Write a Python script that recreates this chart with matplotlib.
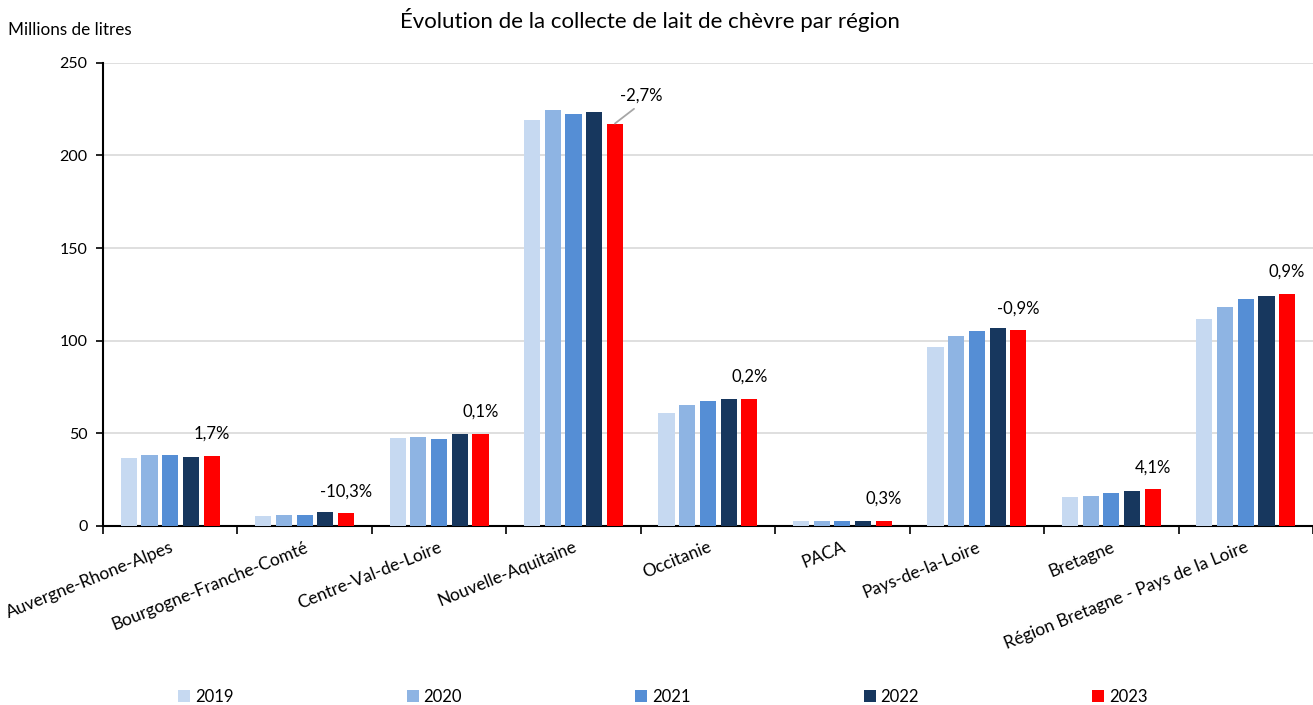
import numpy as np
import matplotlib
matplotlib.use("Agg")
import matplotlib.pyplot as plt

plt.rcParams["font.family"] = ["Lato", "DejaVu Sans"]

# Data
regions = [
    "Auvergne-Rhone-Alpes",
    "Bourgogne-Franche-Comté",
    "Centre-Val-de-Loire",
    "Nouvelle-Aquitaine",
    "Occitanie",
    "PACA",
    "Pays-de-la-Loire",
    "Bretagne",
    "Région Bretagne - Pays de la Loire",
]
years = ["2019", "2020", "2021", "2022", "2023"]
v2019 = [36.4, 5.4, 47.2, 219.2, 61.0, 2.6, 96.7, 15.7, 111.8]
v2020 = [38.2, 6.1, 47.9, 224.6, 65.3, 2.6, 102.6, 16.2, 118.3]
v2021 = [38.3, 6.1, 47.0, 222.1, 67.5, 2.6, 105.3, 17.8, 122.6]
v2022 = [37.4, 7.7, 49.6, 223.2, 68.5, 2.7, 106.6, 18.9, 124.2]
v2023 = [38.0, 6.9, 49.7, 217.2, 68.6, 2.7, 105.6, 19.7, 125.3]
evolution = ["1,7%", "-10,3%", "0,1%", "-2,7%", "0,2%", "0,3%", "-0,9%", "4,1%", "0,9%"]

colors = ["#C6D9F1", "#8EB4E3", "#558ED5", "#17375E", "#FF0000"]
series = [v2019, v2020, v2021, v2022, v2023]

fig = plt.figure(figsize=(13.13, 7.05), dpi=100)
ax = fig.add_axes([0.0784, 0.254, 0.9216, 0.657])

x = np.arange(len(regions))
width = 0.12
step = 0.154
for i, (vals, col, yr) in enumerate(zip(series, colors, years)):
    ax.bar(x + (i - 2) * step, vals, width, color=col, label=yr, zorder=3)

# evolution labels above the 2023 bars
for xi, val, txt in zip(x, v2023, evolution):
    xb = xi + 2 * step
    if txt == "-2,7%":
        ax.annotate(txt, xy=(xb, val), xytext=(26, 28), textcoords="offset pixels",
                    ha="center", va="center", fontsize=12,
                    arrowprops=dict(arrowstyle="-", color="#A6A6A6", lw=1.3,
                                    relpos=(0.5, 0.0), shrinkA=3, shrinkB=0))
    else:
        ax.annotate(txt, xy=(xb, val), xytext=(0, 22), textcoords="offset pixels",
                    ha="center", va="center", fontsize=12)

ax.set_xlim(-0.5, len(regions) - 0.5)
ax.set_ylim(0, 250)
ax.set_yticks([0, 50, 100, 150, 200, 250])
ax.yaxis.grid(True, color="#D9D9D9", lw=1.2, zorder=0)
ax.tick_params(axis="y", labelsize=11.5, length=5, width=1.2, pad=6)

# category boundary ticks and rotated labels
ax.set_xticks(np.arange(len(regions) + 1) - 0.5)
ax.set_xticklabels([])
ax.tick_params(axis="x", length=6, width=1.2)
for xi, name in zip(x, regions):
    ax.text(xi + 0.04, -7, name, rotation=22, ha="right", va="top",
            fontsize=12.5, transform=ax.transData)

for side in ["top", "right"]:
    ax.spines[side].set_visible(False)
ax.spines["left"].set_linewidth(1.5)
ax.spines["bottom"].set_linewidth(1.5)

fig.text(0.495, 0.972, "Évolution de la collecte de lait de chèvre par région",
         ha="center", va="center", fontsize=16)
fig.text(0.006, 0.958, "Millions de litres", ha="left", va="center", fontsize=12.3)

fig.legend(loc="center", bbox_to_anchor=(0.505, 0.012), ncol=5, frameon=False,
           fontsize=12, handlelength=0.7, handleheight=0.7, handletextpad=0.3,
           columnspacing=10.4)

fig.savefig("out.png", dpi=100)
